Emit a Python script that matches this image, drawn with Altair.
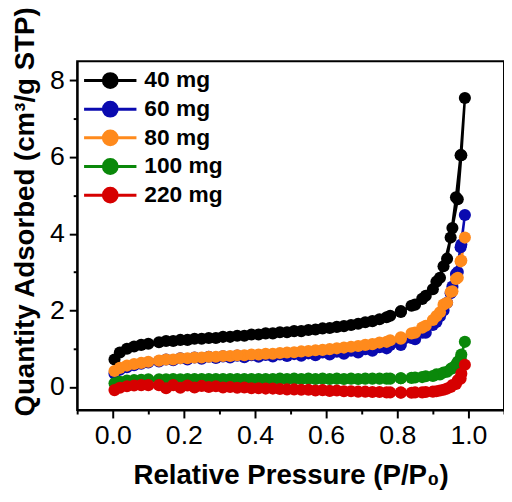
import altair as alt
import pandas as pd

series = ["40 mg", "60 mg", "80 mg", "100 mg", "220 mg"]
colors = ["#000000", "#0a0ab0", "#ff8a1c", "#0a880a", "#d60000"]

p_ads = [0.005, 0.02, 0.04, 0.06, 0.08, 0.10, 0.13, 0.17, 0.21, 0.25, 0.29, 0.33, 0.37, 0.41,
         0.45, 0.49, 0.53, 0.57, 0.61, 0.65, 0.69, 0.73, 0.77, 0.81, 0.85, 0.88, 0.91, 0.93,
         0.95, 0.965, 0.978, 0.99]
p_des = [0.98, 0.97, 0.955, 0.94, 0.92, 0.90, 0.87, 0.84, 0.81, 0.78, 0.75, 0.71, 0.67, 0.63,
         0.59, 0.55, 0.51, 0.47, 0.43, 0.39, 0.35, 0.31, 0.27, 0.23, 0.19, 0.15]

ads = {
    "40 mg": [0.72, 0.90, 1.00, 1.06, 1.10, 1.13, 1.17, 1.20, 1.23, 1.26, 1.28, 1.31, 1.34, 1.37,
              1.40, 1.43, 1.46, 1.50, 1.54, 1.59, 1.65, 1.72, 1.82, 1.96, 2.15, 2.38, 2.75, 3.15,
              3.90, 4.95, 6.05, 7.54],
    "60 mg": [0.35, 0.45, 0.52, 0.57, 0.61, 0.64, 0.67, 0.70, 0.72, 0.74, 0.76, 0.77, 0.78, 0.79,
              0.80, 0.81, 0.82, 0.83, 0.85, 0.87, 0.90, 0.95, 1.01, 1.10, 1.25, 1.42, 1.70, 2.00,
              2.45, 2.95, 3.65, 4.49],
    "80 mg": [0.42, 0.50, 0.56, 0.60, 0.63, 0.66, 0.69, 0.72, 0.75, 0.77, 0.79, 0.81, 0.83, 0.85,
              0.87, 0.90, 0.93, 0.96, 0.99, 1.03, 1.07, 1.12, 1.18, 1.26, 1.42, 1.60, 1.85, 2.15,
              2.48, 2.82, 3.28, 3.90],
    "100 mg": [0.10, 0.14, 0.17, 0.18, 0.19, 0.20, 0.20, 0.21, 0.21, 0.21, 0.21, 0.21, 0.21, 0.21,
               0.21, 0.21, 0.21, 0.21, 0.21, 0.21, 0.21, 0.22, 0.22, 0.23, 0.25, 0.28, 0.33, 0.38,
               0.47, 0.58, 0.75, 1.18],
    "220 mg": [-0.08, -0.02, 0.02, 0.04, 0.05, 0.05, 0.05, 0.05, 0.04, 0.03, 0.02, 0.00, -0.01, -0.03,
               -0.04, -0.06, -0.07, -0.09, -0.10, -0.11, -0.12, -0.13, -0.14, -0.14, -0.14, -0.13, -0.11, -0.07,
               0.00, 0.08, 0.22, 0.58],
}
des = {
    "40 mg": [6.05, 4.90, 4.15, 3.35, 2.85, 2.55, 2.30, 2.12, 1.98, 1.86, 1.77, 1.69, 1.62, 1.57,
              1.53, 1.49, 1.46, 1.43, 1.40, 1.37, 1.34, 1.31, 1.28, 1.26, 1.23, 1.20],
    "60 mg": [3.72, 3.00, 2.62, 2.20, 1.85, 1.62, 1.42, 1.28, 1.18, 1.10, 1.04, 0.99, 0.95, 0.92,
              0.90, 0.88, 0.86, 0.85, 0.84, 0.83, 0.82, 0.80, 0.79, 0.77, 0.75, 0.72],
    "80 mg": [3.30, 2.85, 2.50, 2.20, 1.95, 1.75, 1.55, 1.40, 1.30, 1.22, 1.16, 1.10, 1.05, 1.01,
              0.97, 0.94, 0.91, 0.89, 0.87, 0.85, 0.83, 0.81, 0.79, 0.77, 0.75, 0.72],
    "100 mg": [0.85, 0.66, 0.50, 0.40, 0.33, 0.29, 0.26, 0.24, 0.23, 0.22, 0.22, 0.22, 0.22, 0.22,
               0.22, 0.22, 0.22, 0.22, 0.21, 0.21, 0.21, 0.21, 0.21, 0.21, 0.20, 0.20],
    "220 mg": [0.35, 0.18, 0.05, -0.04, -0.09, -0.12, -0.14, -0.15, -0.15, -0.14, -0.13, -0.12, -0.11, -0.09,
               -0.08, -0.07, -0.06, -0.05, -0.04, -0.03, -0.02, -0.01, 0.00, -0.01, -0.02, -0.03],
}

x_major = [0.0, 0.2, 0.4, 0.6, 0.8, 1.0]
x_minor = [-0.1, 0.1, 0.3, 0.5, 0.7, 0.9, 1.1]
y_ticks = [0, 1, 2, 3, 4, 5, 6, 7, 8]

rows = []
for si, s in enumerate(series):
    k = 0
    for p, q in zip(p_ads, ads[s]):
        rows.append({"series": s, "sidx": si, "k": k, "P": p, "Q": q})
        k += 1
    for p, q in zip(p_des, des[s]):
        rows.append({"series": s, "sidx": si, "k": k, "P": p, "Q": q})
        k += 1
df = pd.DataFrame(rows)

FONT = "Liberation Sans"
xscale = alt.Scale(domain=[-0.1, 1.1], nice=False, zero=False)
yscale = alt.Scale(domain=[-0.6, 8.5], nice=False, zero=False)
cscale = alt.Scale(domain=series, range=colors)

y_major_test = "datum.value % 2 == 0"

sym = "M-2.65,0H2.65M0.7,0A0.7,0.7,0,1,1,-0.7,0A0.7,0.7,0,1,1,0.7,0Z"

legend = alt.Legend(
    title=None, orient="none", legendX=22, legendY=8,
    symbolType=sym, symbolSize=400, symbolStrokeWidth=3, symbolOpacity=1,
    labelFont=FONT, labelFontSize=23, labelFontWeight="bold", labelColor="black",
    rowPadding=2, labelOffset=23,
)

base = alt.Chart(df)

lines = base.mark_line(strokeWidth=2.5).encode(
    x=alt.X("P:Q", scale=xscale,
            axis=alt.Axis(values=x_major, format=".1f", title="Relative Pressure (P/P₀)",
                          orient="bottom", labelOverlap=False, labelFlush=False, tickSize=8,
                          titlePadding=13, titleFontSize=28)),
    y=alt.Y("Q:Q", scale=yscale,
            axis=alt.Axis(values=y_ticks, title="Quantity Adsorbed (cm³/g STP)",
                          labelExpr=f"({y_major_test}) ? format(datum.value, 'd') : ''",
                          labelOverlap=False, labelFlush=False,
                          tickSize={"condition": {"test": y_major_test, "value": 8}, "value": 4},
                          titlePadding=10, titleFontSize=28, titleY=152)),
    color=alt.Color("series:N", scale=cscale, legend=legend, sort=series),
    order="k:Q",
    detail="series:N",
)

points = base.mark_circle(size=150, opacity=1).encode(
    x=alt.X("P:Q", scale=xscale, axis=None),
    y=alt.Y("Q:Q", scale=yscale),
    color=alt.Color("series:N", scale=cscale, legend=legend, sort=series),
    order="sidx:Q",
)

minor = base.mark_point(opacity=0).encode(
    x=alt.X("P:Q", scale=xscale,
            axis=alt.Axis(values=x_minor, labels=False, title=None, tickSize=4,
                          domain=False, orient="bottom")),
    y=alt.Y("Q:Q", scale=yscale),
)

chart = alt.layer(lines, points, minor).resolve_axis(x="independent").properties(
    width=432, height=353,
    autosize=alt.AutoSizeParams(type="none"),
    padding={"left": 70, "top": 51, "right": 0, "bottom": 78},
).configure_view(
    stroke="black", strokeWidth=2
).configure_axis(
    grid=False, domainColor="black", domainWidth=2, tickColor="black", tickWidth=2,
    labelFont=FONT, labelFontSize=27, labelColor="black", labelPadding=5,
    titleFont=FONT, titleFontWeight="bold", titleColor="black",
)

chart.save("out.html", embed_options={"renderer": "svg", "actions": False})
